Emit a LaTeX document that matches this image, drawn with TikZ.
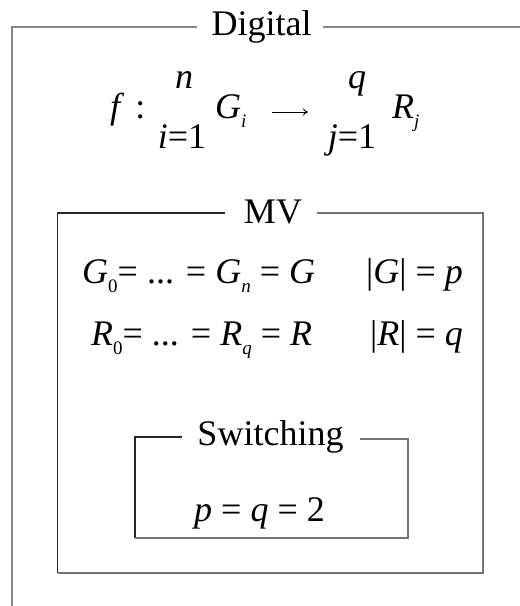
\documentclass[tikz,border=0pt]{standalone}
\usepackage{fontspec}
\setmainfont{Liberation Serif}
\usetikzlibrary{arrows.meta}
\newcommand\mysub[1]{\raisebox{-0.27em}{\fontsize{19}{19}\selectfont #1}}
\begin{document}
\begin{tikzpicture}[x=1pt,y=-1pt,
  txt/.style={inner sep=0pt, font=\fontsize{36}{42}\selectfont, anchor=base},
  mth/.style={inner sep=0pt, font=\fontsize{36}{42}\selectfont, anchor=base west},
  outerline/.style={line width=2pt, draw=black!47},
  darkline/.style={line width=1.1pt, draw=black!85},
  greyline/.style={line width=1.1pt, draw=black!55},
  ]
\useasboundingbox (0,0) rectangle (520,606);
% outer "Digital" frame
\node[txt] (dig) at (261.5,35) {Digital};
\coordinate (oBL) at (11.5,606);
\coordinate (oL) at (197,27);
\coordinate (oR) at (323,27);
\coordinate (oTR) at (520,27);
\draw[outerline] (oBL) |- (oL);
\draw[outerline] (oR) -- (oTR);
% top formula
\node[mth] (f) at (110,118) {\textit{f}\hspace{11pt}:};
\node[txt] (n) at (184,88) {\textit{n}};
\node[txt] (i1) at (182,148) {\textit{i}=1};
\node[mth] (Gi) at (215,118) {\textit{G}\mysub{\textit{i}}};
\coordinate (a1) at (272,112);
\coordinate (a2) at (308,112);
\draw[line width=0.9pt, -{To[length=5pt,width=7pt]}] (a1) -- (a2);
\node[txt] (q) at (357,88) {\textit{q}};
\node[txt] (j1) at (352,148) {\textit{j}=1};
\node[mth] (Rj) at (392,118) {\textit{R}\mysub{\textit{j}}};
% MV frame
\node[txt] (mv) at (273,223) {MV};
\coordinate (mBL) at (57.5,573);
\coordinate (mL) at (225,213);
\coordinate (mR) at (317,213);
\coordinate (mTR) at (483,213);
\draw[darkline] (mBL) |- (mL);
\draw[greyline] (mR) -| (mTR) |- (mBL);
\node[mth] (row1) at (82,283) {\textit{G}\mysub{0}= ... = \textit{G}\mysub{\textit{n}} = \textit{G}};
\node[mth] (card1) at (366,283) {|\textit{G}| = \textit{p}};
\node[mth] (row2) at (91,345) {\textit{R}\mysub{0}= ... = \textit{R}\mysub{\textit{q}} = \textit{R}};
\node[mth] (card2) at (370,345) {|\textit{R}| = \textit{q}};
% Switching frame
\node[txt] (sw) at (270.5,445) {Switching};
\coordinate (sBL) at (135,538);
\coordinate (sL) at (182,437);
\coordinate (sR) at (360,439);
\coordinate (sTR) at (408,439);
\draw[darkline] (sBL) |- (sL);
\draw[greyline] (sR) -| (sTR) |- (sBL);
\node[mth] (pq) at (194,521) {\textit{p} = \textit{q} = 2};
\end{tikzpicture}
\end{document}
